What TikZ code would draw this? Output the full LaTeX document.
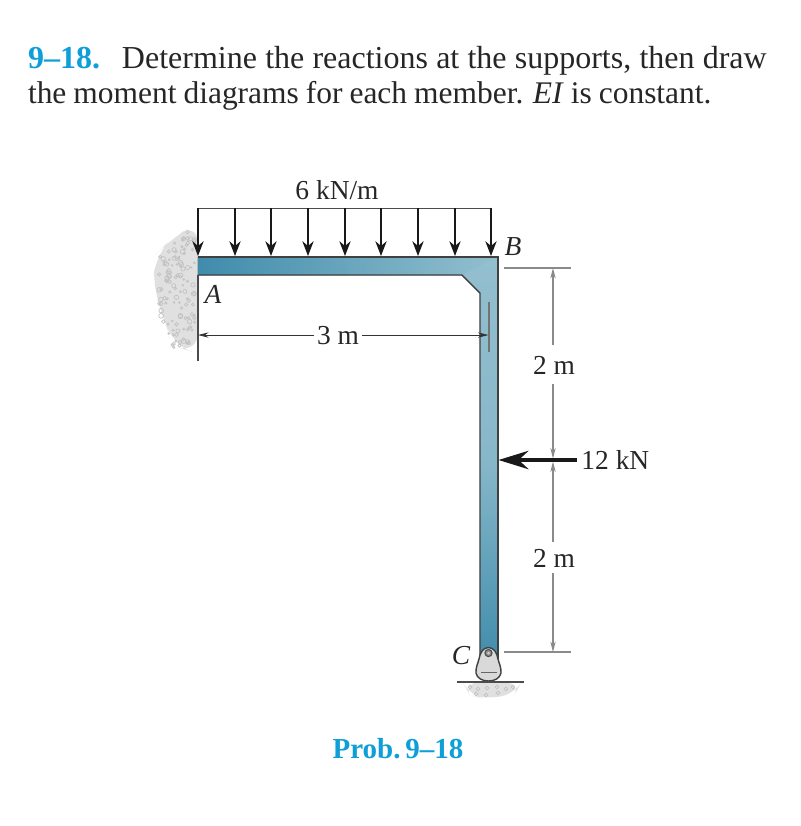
\documentclass[tikz,border=0pt]{standalone}
\usepackage{fontspec}
\setmainfont{Liberation Serif}
\usetikzlibrary{arrows.meta}
\definecolor{probblue}{HTML}{0F9FD8}
\definecolor{steeldark}{HTML}{3F8CAB}
\definecolor{steellight}{HTML}{93BFCF}
\definecolor{dimgray}{HTML}{8A8A8A}
\tikzset{
  every node/.style={inner sep=0pt,outer sep=0pt,text=black!85},
  lbl/.style={font=\fontsize{7.8pt}{9pt}\selectfont},
  title/.style={font=\fontsize{9.1pt}{10pt}\selectfont,anchor=base west},
  dimthin/.style={draw=black!80,line width=0.22pt},
  dimgrey/.style={draw=dimgray,line width=0.32pt},
  tipsmall/.style={-{Stealth[length=3pt,width=1.5pt]}},
  loadarrow/.style={draw=black!90,line width=0.55pt,-{Stealth[length=4.2pt,width=3.2pt]}},
}
\begin{document}
\begin{tikzpicture}[x=0.01cm,y=-0.01cm]
\useasboundingbox (0,0) rectangle (801,826);
% text
\node[title,text=probblue,font=\fontsize{9.1pt}{10pt}\selectfont\bfseries] (num) at (28,68) {9--18.};
\node[title] (line1) at (122,68) {\spaceskip=2.33pt Determine the reactions at the supports, then draw};
\node[title,font=\fontsize{8.95pt}{10pt}\selectfont] (line2) at (28,103) {\spaceskip=1.98pt the moment diagrams for each member. \textit{EI} is constant.};
% wall
\fill[black!12,rounded corners=6pt] (198,222) -- (170,240) -- (155,255) -- (153,290) -- (165,320) -- (172,345) -- (198,354) -- cycle;
\pgfmathsetseed{918}
\foreach \i in {1,...,120} {
  \pgfmathsetmacro{\wy}{rnd*116+232}
  \pgfmathsetmacro{\wl}{max(198-(\wy-224)*1.3,159,159+(\wy-315)*0.45)}
  \pgfmathsetmacro{\wx}{\wl+rnd*(195-\wl)}
  \pgfmathsetmacro{\wr}{rnd*1.6+0.8}
  \draw[black!24,line width=0.2pt] (\wx,\wy) circle (\wr);
}
% ground
\fill[black!12,rounded corners=4pt] (463,683) -- (521,683) -- (515,694) -- (485,699) -- (470,695) -- cycle;
\foreach \gx/\gy in {470/687,478/689,487/688,497/687,506/689,513/687,476/694,486/695,498/693} {
  \draw[black!24,line width=0.2pt] (\gx,\gy) circle (1.8);
}
% member
\fill[left color=steeldark,right color=steellight] (198,257) -- (498,257) -- (481,293) -- (462,275) -- (198,275) -- cycle;
\shade[top color=steellight,bottom color=steeldark,middle color=steellight!85!steeldark] (498,257) -- (498,665) -- (480,665) -- (480,293) -- (462,275) -- cycle;
\draw[black!75,line width=0.4pt] (198,275) -- (462,275) -- (480,293) -- (480,660);
\draw[black!75,line width=0.4pt] (198,257) -- (498,257) -- (498,660);
% pin at C
\coordinate (pinC) at (488.5,653);
\draw[black!75,line width=0.4pt,fill=black!15] (488.5,647.5) .. controls (494,647.5) and (497,653) .. (498,659)
  .. controls (499,663) and (501.5,668) .. (501,673) .. controls (500,678) and (495,681) .. (488.5,681)
  .. controls (482,681) and (477,678) .. (476,673) .. controls (475.5,668) and (478,663) .. (479,659)
  .. controls (480,653) and (483,647.5) .. (488.5,647.5) -- cycle;
\draw[black!60,line width=0.25pt] (481,672) -- (497,672);
\draw[black!70,line width=0.3pt,fill=black!45] (pinC) circle (3.6);
\fill[black!20] (pinC) circle (1.5);
\draw[black!70,line width=0.4pt] (457,682) -- (524,682);
% uniform load
\coordinate (loadL) at (198,208);
\coordinate (loadR) at (491,208);
\draw[black!70,line width=0.25pt] (loadL) -- (loadR);
\foreach \ax in {198,235,271,308,345,381,418,455,491} {
  \draw[loadarrow] (\ax,208) -- (\ax,256);
}
% wall face
\coordinate (wallT) at (198,275);
\coordinate (wallB) at (198,361);
\draw[black!70,line width=0.4pt] (wallT) -- (wallB);
% dimensions
\node[lbl] (lblthree) at (338,336) {3 m};
\coordinate (dimL) at (198,335);
\coordinate (dimR) at (488.5,335);
\draw[dimthin,tipsmall] (lblthree) ++(-24,-1) -- (dimL);
\draw[dimthin,tipsmall] (lblthree) ++(24,-1) -- (dimR);
\coordinate (tickT) at (489,302);
\coordinate (tickB) at (489,352);
\draw[black!55,line width=0.3pt] (tickT) -- (tickB);
\coordinate (extTa) at (504,268);
\coordinate (extTb) at (571,268);
\coordinate (extBa) at (504,652);
\coordinate (extBb) at (571,652);
\draw[dimgrey] (extTa) -- (extTb);
\draw[dimgrey] (extBa) -- (extBb);
\node[lbl] (lbltwoa) at (554,365) {2 m};
\node[lbl] (lbltwob) at (554,558) {2 m};
\coordinate (dimT) at (553,268);
\coordinate (dimM) at (553,460);
\coordinate (dimB) at (553,652);
\draw[dimgrey,tipsmall] (553,345) -- (dimT);
\draw[dimgrey,tipsmall] (553,384) -- (553,458.5);
\draw[dimgrey,tipsmall] (553,542) -- (553,461.5);
\draw[dimgrey,tipsmall] (553,573) -- (dimB);
% point load
\node[lbl,anchor=west] (lbltwelve) at (581.5,460) {12 kN};
\coordinate (loadtip) at (498.5,460);
\draw[black!90,line width=1.15pt,-{Stealth[length=8.5pt,width=5.2pt]}] (577,460) -- (loadtip);
% labels
\node[lbl] (lblload) at (337,190) {6 kN/m};
\node[lbl,font=\fontsize{7.8pt}{9pt}\selectfont\itshape] (ptA) at (213,294) {A};
\node[lbl,font=\fontsize{7.8pt}{9pt}\selectfont\itshape] (ptB) at (513,247) {B};
\node[lbl,font=\fontsize{7.8pt}{9pt}\selectfont\itshape] (ptC) at (461,656) {C};
\node[text=probblue,font=\fontsize{8.25pt}{9pt}\selectfont\bfseries] (caption) at (398,749) {Prob.\,9--18};
\end{tikzpicture}
\end{document}
